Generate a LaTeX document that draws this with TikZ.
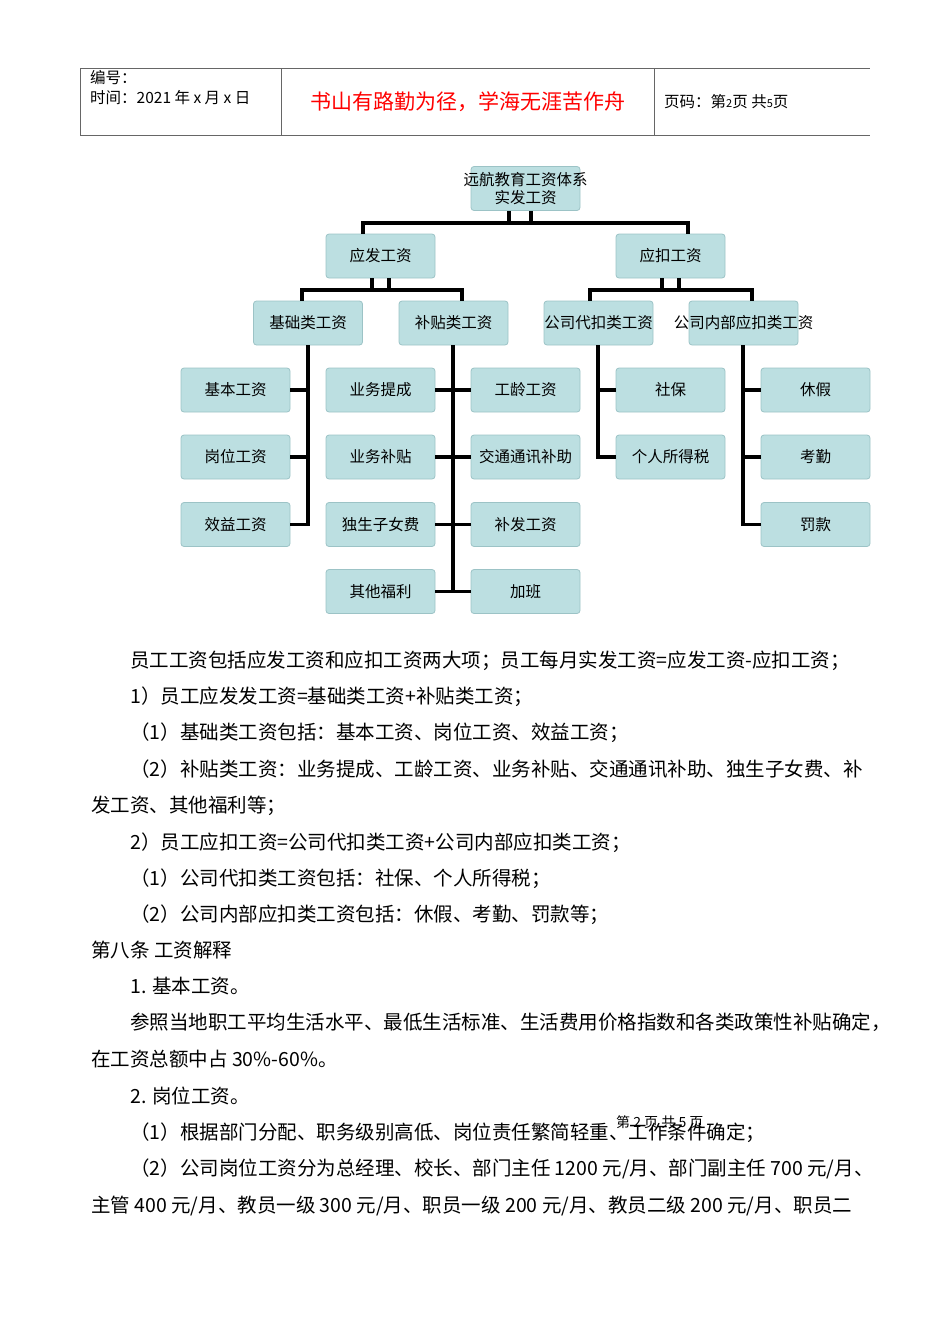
\documentclass[tikz,border=0pt]{standalone}
\usepackage{fontspec}
\setmainfont{Noto Sans CJK SC}
\newcommand{\zb}[1]{\makebox[0pt]{#1}}
\begin{document}
\begin{tikzpicture}[x=1pt,y=-1pt,
  bx/.style={draw=boxline,fill=boxfill,rounded corners=3pt,minimum width=109pt,minimum height=44pt,inner sep=0pt,font=\fontsize{15.5}{17}\selectfont,line width=0.8pt},
  ln/.style={line width=3.5pt},
  tx/.style={anchor=base west,inner sep=0pt,font=\fontsize{19.5}{21}\selectfont}]
\definecolor{boxfill}{HTML}{BCDFE1}
\definecolor{boxline}{HTML}{9CC3C6}
\useasboundingbox (0,0) rectangle (950,1344);
% header
\draw[line width=0.7pt,gray!80!black] (80,68) -- (870,68) (80,135) -- (870,135) (80,68) -- (80,135) (281,68) -- (281,135) (654,68) -- (654,135);
\node[anchor=west,inner sep=0pt,font=\fontsize{15.5}{17}\selectfont] (h1) at (90,78) {编号：};
\node[anchor=west,inner sep=0pt,font=\fontsize{15.5}{17}\selectfont] (h2) at (90,98) {时间：2021 年 x 月 x 日};
\node[inner sep=0pt,text=red,font=\fontsize{21}{23}\selectfont] (h3) at (468,102) {书山有路勤为径，学海无涯苦作舟};
\node[anchor=west,inner sep=0pt,font=\fontsize{15.5}{17}\selectfont] (h4) at (664,102) {页码：第{\fontsize{11}{12}\selectfont 2}页 共{\fontsize{11}{12}\selectfont 5}页};
% tree
\node[bx] (root) at (525.5,188.5) {\shortstack{\zb{远航教育工资体系}\\\zb{实发工资}}};
\node[bx] (yf) at (380.5,256) {应发工资};
\node[bx] (yk) at (670.5,256) {应扣工资};
\node[bx] (jc) at (308,323) {基础类工资};
\node[bx] (bt) at (453.5,323) {补贴类工资};
\node[bx] (dk) at (598.5,323) {\zb{公司代扣类工资}};
\node[bx] (nb) at (743.5,323) {\zb{公司内部应扣类工资}};
\node[bx] (a1) at (235.5,390) {基本工资};
\node[bx] (a2) at (235.5,457) {岗位工资};
\node[bx] (a3) at (235.5,524.5) {效益工资};
\node[bx] (b1) at (380.5,390) {业务提成};
\node[bx] (b2) at (380.5,457) {业务补贴};
\node[bx] (b3) at (380.5,524.5) {独生子女费};
\node[bx] (b4) at (380.5,591.5) {其他福利};
\node[bx] (c1) at (525.5,390) {工龄工资};
\node[bx] (c2) at (525.5,457) {\zb{交通通讯补助}};
\node[bx] (c3) at (525.5,524.5) {补发工资};
\node[bx] (c4) at (525.5,591.5) {加班};
\node[bx] (d1) at (670.5,390) {社保};
\node[bx] (d2) at (670.5,457) {个人所得税};
\node[bx] (e1) at (815.5,390) {休假};
\node[bx] (e2) at (815.5,457) {考勤};
\node[bx] (e3) at (815.5,524.5) {罚款};
% connectors
\draw[ln] (root.south -| 509,0) -- (509,223) (root.south -| 531,0) -- (531,223);
\draw[ln] (yf.north -| 363,0) -- (363,223) -- (688,223) -- (yk.north -| 688,0);
\draw[ln] (yf.south -| 372,0) -- (372,290) (yf.south -| 389,0) -- (389,290);
\draw[ln] (jc.north -| 302,0) -- (302,290) -- (462,290) -- (bt.north -| 462,0);
\draw[ln] (yk.south -| 662,0) -- (662,290) (yk.south -| 679,0) -- (679,290);
\draw[ln] (dk.north -| 590,0) -- (590,290) -- (752,290) -- (nb.north -| 752,0);
\draw[ln] (jc.south -| 308,0) -- (308,524.5) -- (a3.east);
\draw[ln] (a1.east) -- (308,390) (a2.east) -- (308,457);
\draw[ln] (bt.south -| 453,0) -- (453,591.5);
\foreach \l/\r in {b1/c1,b2/c2,b3/c3,b4/c4} \draw[ln] (\l.east) -- (\r.west);
\draw[ln] (dk.south -| 598,0) -- (598,457) -- (d2.west);
\draw[ln] (d1.west) -- (598,390);
\draw[ln] (nb.south -| 743,0) -- (743,524.5) -- (e3.west);
\draw[ln] (e1.west) -- (743,390) (e2.west) -- (743,457);
% body
\node[tx] (t1) at (130,667) {员工工资包括应发工资和应扣工资两大项；员工每月实发工资=应发工资-应扣工资；};
\node[tx] (t2) at (130,703) {1）员工应发发工资=基础类工资+补贴类工资；};
\node[tx] (t3) at (130,739) {（1）基础类工资包括：基本工资、岗位工资、效益工资；};
\node[tx] (t4) at (130,776) {（2）补贴类工资：业务提成、工龄工资、业务补贴、交通通讯补助、独生子女费、补};
\node[tx] (t5) at (91,812) {发工资、其他福利等；};
\node[tx] (t6) at (130,849) {2）员工应扣工资=公司代扣类工资+公司内部应扣类工资；};
\node[tx] (t7) at (130,885) {（1）公司代扣类工资包括：社保、个人所得税；};
\node[tx] (t8) at (130,921) {（2）公司内部应扣类工资包括：休假、考勤、罚款等；};
\node[tx] (t9) at (91,957) {第八条 工资解释};
\node[tx] (t10) at (130,993) {1. 基本工资。};
\node[tx] (t11) at (130,1029) {参照当地职工平均生活水平、最低生活标准、生活费用价格指数和各类政策性补贴确定，};
\node[tx] (t12) at (91,1066) {在工资总额中占 30\%-60\%。};
\node[tx] (t13) at (130,1103) {2. 岗位工资。};
\node[tx] (t14) at (130,1139) {（1）根据部门分配、职务级别高低、岗位责任繁简轻重、工作条件确定；};
\node[tx] (t15) at (130,1175) {（2）公司岗位工资分为总经理、校长、部门主任 1200 元/月、部门副主任 700 元/月、};
\node[tx] (t16) at (91,1212) {主管 400 元/月、教员一级 300 元/月、职员一级 200 元/月、教员二级 200 元/月、职员二};
\node[anchor=west,inner sep=0pt,font=\fontsize{14}{15}\selectfont] (pg) at (616,1122) {第 2 页 共 5 页};
\end{tikzpicture}
\end{document}
